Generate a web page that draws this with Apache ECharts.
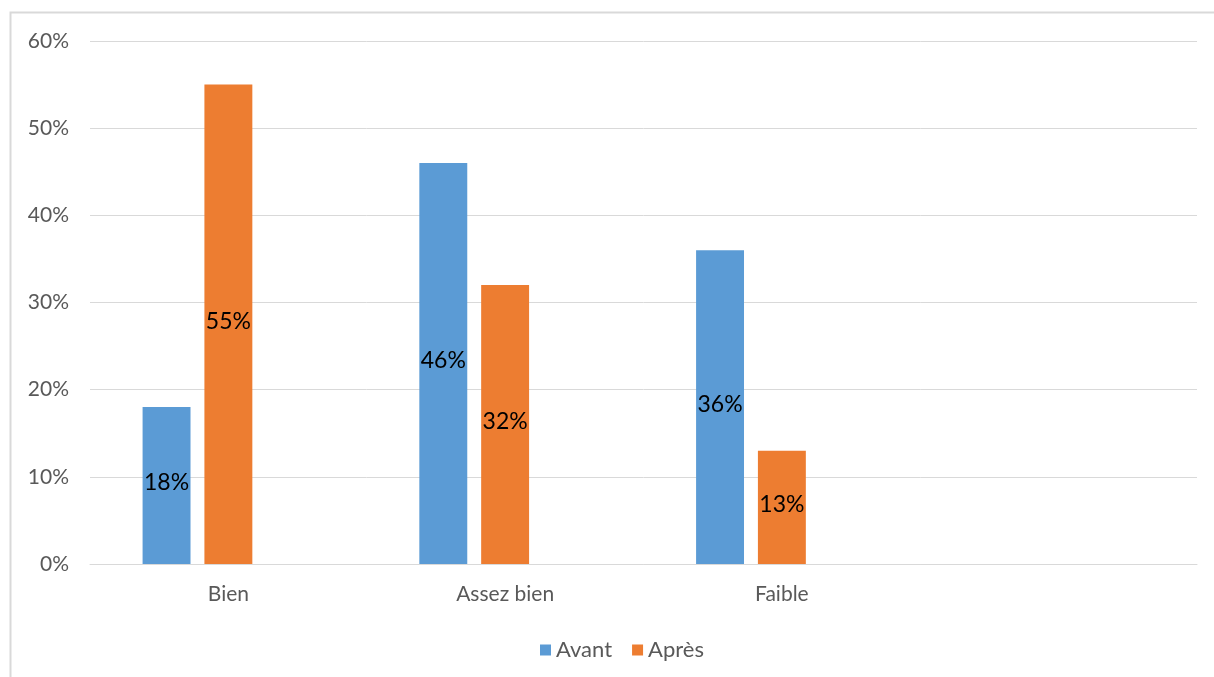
<!DOCTYPE html>
<html>
<head>
<meta charset="utf-8">
<script src="https://cdn.jsdelivr.net/npm/echarts@6/dist/echarts.min.js"></script>
<style>
  html, body { margin: 0; padding: 0; background: #fff; }
  #chart { width: 1214px; height: 677px; }
</style>
</head>
<body>
<div id="chart"></div>
<script>
// Categories (the fourth slot is left empty, as in the original workbook)
const categories = ['Bien', 'Assez bien', 'Faible', ''];
// Percentages per rating level
const avant = [18, 46, 36, null];
const apres = [55, 32, 13, null];
// Third, empty series slot that keeps the bar layout of the source chart
const empty = [null, null, null, null];
const yTicks = [0, 10, 20, 30, 40, 50, 60];

const font = 'Lato, "Open Sans", sans-serif';
const chart = echarts.init(document.getElementById('chart'));

const labelStyle = {
  show: true,
  position: 'inside',
  offset: [0, -3],
  formatter: p => p.value + '%',
  color: '#000',
  fontSize: 23,
  fontFamily: font
};

chart.setOption({
  animation: false,
  textStyle: { fontFamily: font },
  graphic: [{
    type: 'rect',
    shape: { x: 10.5, y: 12.5, width: 1400, height: 900 },
    style: { fill: 'none', stroke: '#d9d9d9', lineWidth: 2 },
    silent: true
  }],
  grid: { left: 90, right: 17, top: 41, bottom: 113, containLabel: false },
  legend: {
    data: ['Avant', 'Après'],
    top: 634,
    left: 535,
    itemWidth: 11,
    itemHeight: 11,
    itemGap: 20,
    icon: 'rect',
    textStyle: { color: '#595959', fontSize: 22, fontFamily: font }
  },
  xAxis: {
    type: 'category',
    data: categories,
    axisLine: { show: true, lineStyle: { color: '#d9d9d9', width: 1 } },
    axisTick: { show: false },
    axisLabel: { color: '#595959', fontSize: 21, fontFamily: font, margin: 20 }
  },
  yAxis: {
    type: 'value',
    min: yTicks[0],
    max: yTicks[yTicks.length - 1],
    interval: 10,
    axisLine: { show: false },
    axisTick: { show: false },
    splitLine: { lineStyle: { color: '#d9d9d9', width: 1 } },
    axisLabel: {
      color: '#595959', fontSize: 21, fontFamily: font, margin: 21,
      formatter: v => v + '%'
    }
  },
  series: [
    {
      name: 'Avant', type: 'bar', data: avant,
      itemStyle: { color: '#5b9bd5' },
      barGap: '29%', barCategoryGap: '38%',
      label: labelStyle
    },
    {
      name: 'Après', type: 'bar', data: apres,
      itemStyle: { color: '#ed7d31' },
      barGap: '29%', barCategoryGap: '38%',
      label: labelStyle
    },
    {
      name: '_', type: 'bar', data: empty,
      itemStyle: { color: 'transparent' },
      barGap: '29%', barCategoryGap: '38%'
    }
  ]
});
</script>
</body>
</html>
